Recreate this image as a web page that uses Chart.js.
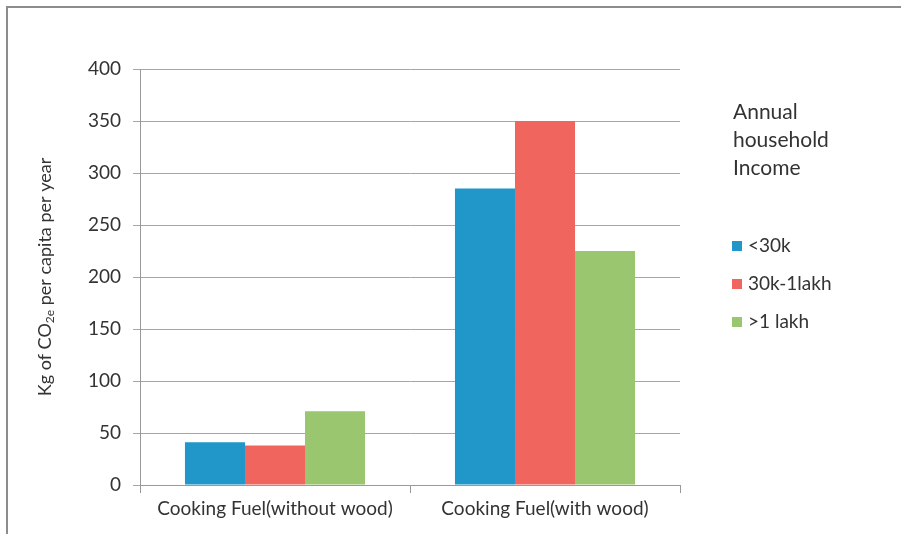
<!DOCTYPE html>
<html><head><meta charset="utf-8">
<script src="https://cdn.jsdelivr.net/npm/chart.js@4.4.1/dist/chart.umd.min.js"></script>
<style>html,body{margin:0;padding:0;background:#fff}#wrap{width:901px;height:534px;position:relative}</style>
</head><body><div id="wrap"><canvas id="c" width="901" height="534"></canvas></div>
<script>
const categories = ["Cooking Fuel(without wood)", "Cooking Fuel(with wood)"];
const seriesNames = ["<30k", "30k-1lakh", ">1 lakh"];
const lowIncome = [41, 285];
const midIncome = [38, 350];
const highIncome = [71, 225];
const seriesColors = ["#2196C9", "#F0655E", "#99C66F"];
const yTicks = [0, 50, 100, 150, 200, 250, 300, 350, 400];
const legendTitle = ["Annual", "household", "Income"];

const FONT = "Lato, 'Open Sans', sans-serif";
const TXT = "#333333";

const frame = {
  id: 'frame',
  beforeDraw(chart) {
    const ctx = chart.ctx;
    ctx.save();
    ctx.fillStyle = '#fff';
    ctx.fillRect(0, 0, chart.width, chart.height);
    ctx.strokeStyle = '#8c8c8c';
    ctx.lineWidth = 2;
    ctx.beginPath();
    ctx.moveTo(7, chart.height);
    ctx.lineTo(7, 7);
    ctx.lineTo(chart.width, 7);
    ctx.stroke();
    ctx.restore();
  },
  afterDraw(chart) {
    const ctx = chart.ctx;
    const a = chart.chartArea;
    ctx.save();
    // y-axis title with subscript
    ctx.translate(45, (a.top + a.bottom) / 2);
    ctx.rotate(-Math.PI / 2);
    ctx.fillStyle = TXT;
    ctx.textBaseline = 'middle';
    const big = "18px " + FONT, small = "12px " + FONT;
    const parts = [["Kg of CO", big, 0], ["2e", small, 5], [" per capita per year", big, 0]];
    let total = 0;
    parts.forEach(p => { ctx.font = p[1]; total += ctx.measureText(p[0]).width; });
    let x = -total / 2;
    parts.forEach(p => { ctx.font = p[1]; ctx.fillText(p[0], x, p[2]); x += ctx.measureText(p[0]).width; });
    ctx.restore();

    // legend
    ctx.save();
    ctx.fillStyle = TXT;
    ctx.textBaseline = 'middle';
    ctx.font = "21px " + FONT;
    legendTitle.forEach((t, i) => ctx.fillText(t, 733, 112 + i * 28));
    ctx.font = "19px " + FONT;
    chart.data.datasets.forEach((ds, i) => {
      const y = 246 + i * 38;
      ctx.fillStyle = ds.backgroundColor;
      ctx.fillRect(732, y - 5, 10, 10);
      ctx.fillStyle = TXT;
      ctx.fillText(ds.label, 748, y);
    });
    ctx.restore();
  }
};

new Chart(document.getElementById('c'), {
  type: 'bar',
  data: {
    labels: categories,
    datasets: [
      { label: seriesNames[0], data: lowIncome, backgroundColor: seriesColors[0] },
      { label: seriesNames[1], data: midIncome, backgroundColor: seriesColors[1] },
      { label: seriesNames[2], data: highIncome, backgroundColor: seriesColors[2] }
    ]
  },
  options: {
    responsive: false,
    animation: false,
    devicePixelRatio: 1,
    layout: { padding: { left: 80, right: 221, top: 69, bottom: 0 } },
    datasets: { bar: { categoryPercentage: 0.667, barPercentage: 1.0 } },
    plugins: { legend: { display: false }, tooltip: { enabled: false } },
    scales: {
      x: {
        grid: { display: true, drawOnChartArea: false, offset: true, color: '#999', tickLength: 8 },
        border: { display: true, color: '#999', width: 1 },
        ticks: { color: TXT, font: { family: FONT, size: 19 }, padding: 4, maxRotation: 0 },
        afterFit: s => { s.height = 49; }
      },
      y: {
        min: 0, max: 400,
        afterBuildTicks: s => { s.ticks = yTicks.map(v => ({ value: v })); },
        grid: { color: '#a6a6a6', tickLength: 7 },
        border: { display: true, color: '#999', width: 1 },
        ticks: { color: TXT, font: { family: FONT, size: 19 }, padding: 12 },
        afterFit: s => { s.width = 60; }
      }
    }
  },
  plugins: [frame]
});
</script></body></html>
